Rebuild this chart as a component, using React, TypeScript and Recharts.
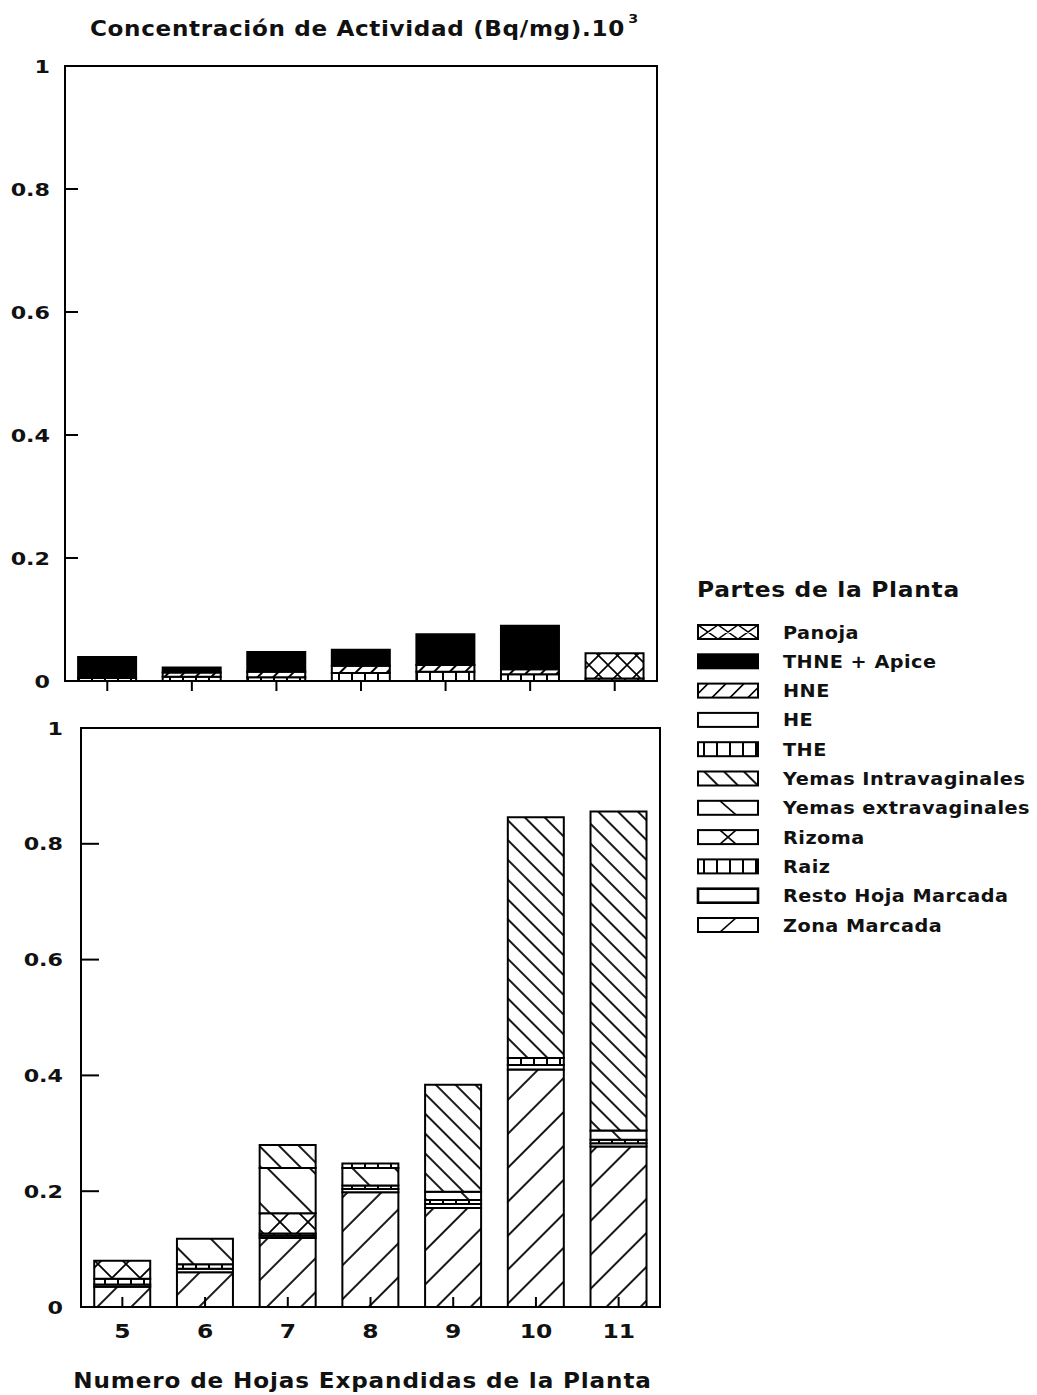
import React from 'react';
import { BarChart, Bar, XAxis, YAxis, Legend, ReferenceArea } from 'recharts';

// ---------- data ----------
const categories = ['5', '6', '7', '8', '9', '10', '11'];
const yTicks = [0, 0.2, 0.4, 0.6, 0.8, 1];

// upper panel
const upperTHE = [0.005, 0.007, 0.006, 0.013, 0.015, 0.011, 0.004];
const upperHE = [0, 0, 0, 0, 0, 0, 0];
const upperHNE = [0, 0.007, 0.009, 0.012, 0.011, 0.008, 0];
const upperTHNE = [0.034, 0.008, 0.032, 0.026, 0.05, 0.071, 0];
const upperPanoja = [0, 0, 0, 0, 0, 0, 0.041];

// lower panel
const lowerZona = [0.035, 0.06, 0.119, 0.198, 0.171, 0.41, 0.277];
const lowerResto = [0.004, 0.006, 0.004, 0.006, 0.007, 0.008, 0.006];
const lowerRaiz = [0.01, 0.008, 0.004, 0.006, 0.007, 0.012, 0.006];
const lowerRizoma = [0.031, 0, 0.035, 0, 0, 0, 0];
const lowerExtra = [0, 0.044, 0.078, 0.03, 0.014, 0, 0.016];
const lowerIntra = [0, 0, 0.04, 0, 0.185, 0.416, 0.551];
const lowerTHE = [0, 0, 0, 0.008, 0, 0, 0];

// series (legend order, top to bottom)
const seriesKeys = ['panoja', 'thne', 'hne', 'he', 'the', 'intra', 'extra', 'rizoma', 'raiz', 'resto', 'zona'];
const seriesNames = [
  'Panoja',
  'THNE + Apice',
  'HNE',
  'HE',
  'THE',
  'Yemas Intravaginales',
  'Yemas extravaginales',
  'Rizoma',
  'Raiz',
  'Resto Hoja Marcada',
  'Zona Marcada',
];
const seriesFills = [
  'url(#p-panoja)',
  '#000',
  'url(#p-hne)',
  '#fff',
  'url(#p-the)',
  'url(#p-intra)',
  'url(#p-extra)',
  'url(#p-rizoma)',
  'url(#p-raiz)',
  '#fff',
  'url(#p-zona)',
];

const titleText = 'Concentración de Actividad (Bq/mg).10';
const titleSup = '3';
const xTitle = 'Numero de Hojas Expandidas de la Planta';
const legendTitle = 'Partes de la Planta';

const zeros = categories.map(() => 0);
const upperData = categories.map((n, i) => ({
  n,
  zona: 0,
  resto: 0,
  raiz: 0,
  rizoma: 0,
  extra: 0,
  intra: 0,
  the: upperTHE[i],
  he: upperHE[i],
  hne: upperHNE[i],
  thne: upperTHNE[i],
  panoja: upperPanoja[i],
}));
const lowerData = categories.map((n, i) => ({
  n,
  zona: lowerZona[i],
  resto: lowerResto[i],
  raiz: lowerRaiz[i],
  rizoma: lowerRizoma[i],
  extra: lowerExtra[i],
  intra: lowerIntra[i],
  the: lowerTHE[i],
  he: zeros[i],
  hne: zeros[i],
  thne: zeros[i],
  panoja: zeros[i],
}));

// ---------- style ----------
const FONT = '"DejaVu Sans", "Liberation Sans", Arial, sans-serif';
const INK = '#111';
const baseText = { fontFamily: FONT, fontWeight: 700, fill: INK } as const;

const Patterns = () => (
  <svg width={0} height={0} style={{ position: 'absolute', left: 0, top: 0 }}>
    <defs>
      <pattern id="p-panoja" patternUnits="userSpaceOnUse" width={19} height={19}>
        <rect width={19} height={19} fill="#fff" />
        <path d="M0,0 L19,19 M19,0 L0,19" stroke="#000" strokeWidth={1.6} />
      </pattern>
      <pattern id="p-hne" patternUnits="userSpaceOnUse" width={11} height={11} patternTransform="rotate(45)">
        <rect width={11} height={11} fill="#fff" />
        <line x1={1} y1={0} x2={1} y2={11} stroke="#000" strokeWidth={2} />
      </pattern>
      <pattern id="p-the" patternUnits="userSpaceOnUse" width={13} height={13}>
        <rect width={13} height={13} fill="#fff" />
        <line x1={1} y1={0} x2={1} y2={13} stroke="#000" strokeWidth={2} />
      </pattern>
      <pattern id="p-raiz" patternUnits="userSpaceOnUse" width={13} height={13}>
        <rect width={13} height={13} fill="#fff" />
        <line x1={1} y1={0} x2={1} y2={13} stroke="#000" strokeWidth={2} />
      </pattern>
      <pattern id="p-intra" patternUnits="userSpaceOnUse" width={14} height={14} patternTransform="rotate(-45)">
        <rect width={14} height={14} fill="#fff" />
        <line x1={1} y1={0} x2={1} y2={14} stroke="#000" strokeWidth={1.8} />
      </pattern>
      <pattern id="p-extra" patternUnits="userSpaceOnUse" width={30} height={30} patternTransform="rotate(-45)">
        <rect width={30} height={30} fill="#fff" />
        <line x1={1} y1={0} x2={1} y2={30} stroke="#000" strokeWidth={1.8} />
      </pattern>
      <pattern id="p-zona" patternUnits="userSpaceOnUse" width={24} height={24} patternTransform="rotate(45)">
        <rect width={24} height={24} fill="#fff" />
        <line x1={1} y1={0} x2={1} y2={24} stroke="#000" strokeWidth={1.8} />
      </pattern>
      <pattern id="p-rizoma" patternUnits="userSpaceOnUse" width={28} height={28} x={0} y={0}>
        <rect width={28} height={28} fill="#fff" />
        <path d="M0,0 L28,28 M28,0 L0,28" stroke="#000" strokeWidth={1.8} />
      </pattern>
    </defs>
  </svg>
);

const makeYTick = (len: number, gap: number) => (props: any) => {
  const { x, y, payload } = props;
  return (
    <g>
      <line x1={x} x2={x + len} y1={y} y2={y} stroke="#000" strokeWidth={2} />
      <text
        transform={`translate(${x - gap},${y}) scale(1.2,1)`}
        x={0}
        y={0}
        dy="0.36em"
        textAnchor="end"
        style={{ ...baseText, fontSize: 18.5 }}
      >
        {String(payload.value)}
      </text>
    </g>
  );
};

const TopXTick = (props: any) => {
  const { x, y } = props;
  return <line x1={x} x2={x} y1={y} y2={y + 10} stroke="#000" strokeWidth={2} />;
};

const BottomXTick = (props: any) => {
  const { x, y, payload } = props;
  return (
    <g>
      <line x1={x} x2={x} y1={y} y2={y - 10} stroke="#000" strokeWidth={2} />
      <text transform={`translate(${x},${y + 31}) scale(1.2,1)`} x={0} y={0} textAnchor="middle" style={{ ...baseText, fontSize: 19.5 }}>
        {payload.value}
      </text>
    </g>
  );
};

const XTitleLabel = (props: any) => {
  const { viewBox } = props;
  const cx = viewBox.x + viewBox.width / 2 - 8;
  const by = viewBox.y + viewBox.height - 7;
  return (
    <text transform={`translate(${cx},${by}) scale(1.1,1)`} x={0} y={0} textAnchor="middle" style={{ ...baseText, fontSize: 21, letterSpacing: 0.8 }}>
      {xTitle}
    </text>
  );
};

const Swatch = ({ k, fill }: { k: string; fill: string }) => {
  const x = 8;
  const y = -7;
  const w = 60;
  const h = 14;
  let extra: React.ReactNode = null;
  let f = fill;
  if (k === 'extra') {
    f = '#fff';
    extra = <path d={`M${x + 22},${y} L${x + 38},${y + h}`} stroke="#000" strokeWidth={1.6} />;
  } else if (k === 'rizoma') {
    f = '#fff';
    extra = <path d={`M${x + 22},${y} L${x + 38},${y + h} M${x + 38},${y} L${x + 22},${y + h}`} stroke="#000" strokeWidth={1.6} />;
  } else if (k === 'zona') {
    f = '#fff';
    extra = <path d={`M${x + 22},${y + h} L${x + 38},${y}`} stroke="#000" strokeWidth={1.6} />;
  } else if (k === 'panoja') {
    f = '#fff';
    extra = (
      <path
        d={[0, 1, 2].map((j) => `M${x + j * 20},${y} L${x + j * 20 + 20},${y + h} M${x + j * 20 + 20},${y} L${x + j * 20},${y + h}`).join(' ')}
        stroke="#000"
        strokeWidth={1.5}
      />
    );
  } else if (k === 'hne') {
    f = '#fff';
    extra = (
      <path
        d={[0, 1, 2, 3].map((j) => `M${x + j * 18 - 4},${y + h} L${x + j * 18 + 10},${y}`).join(' ')}
        stroke="#000"
        strokeWidth={1.6}
      />
    );
  }
  return (
    <g>
      <rect x={x} y={y} width={w} height={h} fill={f} />
      {extra && (
        <g>
          <clipPath id={`clip-${k}`}>
            <rect x={x} y={y} width={w} height={h} />
          </clipPath>
          <g clipPath={`url(#clip-${k})`}>{extra}</g>
        </g>
      )}
      <rect x={x} y={y} width={w} height={h} fill="none" stroke="#000" strokeWidth={k === 'resto' ? 2.6 : 2} />
    </g>
  );
};

const LegendContent = () => (
  <svg width={347} height={375}>
    <text transform="translate(7,27) scale(1.14,1)" x={0} y={0} style={{ ...baseText, fontSize: 20.5, letterSpacing: 0.6 }}>
      {legendTitle}
    </text>
    {seriesNames.map((name, i) => {
      const cy = 62 + i * 29.3;
      return (
        <g key={name} transform={`translate(0,${cy})`}>
          <Swatch k={seriesKeys[i]} fill={seriesFills[i]} />
          <text transform="translate(93,6.5) scale(1.1,1)" x={0} y={0} style={{ ...baseText, fontSize: 17.5, letterSpacing: 0.45 }}>
            {name}
          </text>
        </g>
      );
    })}
  </svg>
);

const stackOrder = ['zona', 'resto', 'raiz', 'rizoma', 'extra', 'intra', 'the', 'he', 'hne', 'thne', 'panoja'];

const renderBars = () =>
  stackOrder.map((k) => {
    const idx = seriesKeys.indexOf(k);
    return (
      <Bar
        key={k}
        dataKey={k}
        name={seriesNames[idx]}
        stackId="s"
        fill={seriesFills[idx]}
        stroke="#000"
        strokeWidth={2}
        isAnimationActive={false}
      />
    );
  });

const axisLine = { stroke: '#000', strokeWidth: 2 };

export default function App() {
  return (
    <div style={{ position: 'absolute', left: 0, top: 0, width: 1037, height: 1395, overflow: 'hidden', background: '#fff' }}>
      <Patterns />
      <svg width={720} height={50} style={{ position: 'absolute', left: 0, top: 0 }}>
        <text transform="translate(90,36) scale(1.1,1)" x={0} y={0} style={{ ...baseText, fontSize: 21, letterSpacing: 0.6 }}>
          {titleText}
          <tspan dx={3} dy={-13} style={{ fontSize: 13 }}>
            {titleSup}
          </tspan>
        </text>
      </svg>

      <div style={{ position: 'absolute', left: 0, top: 0 }}>
        <BarChart
          width={1037}
          height={720}
          data={upperData}
          margin={{ top: 66, right: 380, bottom: 9, left: 0 }}
          barCategoryGap="15.5%"
        >
          <XAxis dataKey="n" height={30} tickSize={0} tickMargin={0} tickLine={false} tick={TopXTick} axisLine={axisLine} />
          <YAxis
            domain={[0, 1]}
            ticks={yTicks}
            width={65}
            tickSize={0}
            tickMargin={0}
            tickLine={false}
            tick={makeYTick(13, 15)}
            axisLine={axisLine}
            interval={0}
          />
          <ReferenceArea x1="5" x2="11" y1={0} y2={1} fill="none" stroke="#000" strokeWidth={2} ifOverflow="visible" />
          {renderBars()}
          <Legend
            layout="horizontal"
            align="center"
            verticalAlign="middle"
            content={<LegendContent />}
            wrapperStyle={{ position: 'absolute', left: 690, top: 570, width: 347 }}
          />
        </BarChart>
      </div>

      <div style={{ position: 'absolute', left: 0, top: 690 }}>
        <BarChart
          width={680}
          height={705}
          data={lowerData}
          margin={{ top: 38, right: 20, bottom: 0, left: 0 }}
          barCategoryGap="16%"
        >
          <XAxis
            dataKey="n"
            height={88}
            tickSize={0}
            tickMargin={0}
            tickLine={false}
            tick={BottomXTick}
            axisLine={axisLine}
            label={<XTitleLabel />}
          />
          <YAxis
            domain={[0, 1]}
            ticks={yTicks}
            width={81}
            tickSize={0}
            tickMargin={0}
            tickLine={false}
            tick={makeYTick(18, 18)}
            axisLine={axisLine}
            interval={0}
          />
          <ReferenceArea x1="5" x2="11" y1={0} y2={1} fill="none" stroke="#000" strokeWidth={2} ifOverflow="visible" />
          {renderBars()}
        </BarChart>
      </div>
    </div>
  );
}
